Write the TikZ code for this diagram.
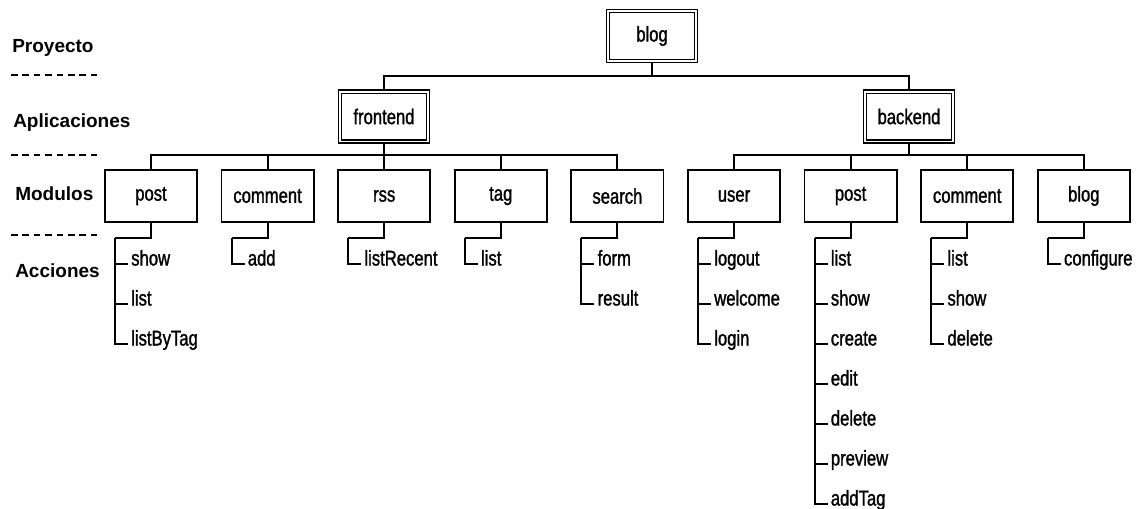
\documentclass[tikz,border=0pt]{standalone}
\usepackage{fontspec}
\setmainfont{Liberation Sans}
\newfontfamily\cf[FakeStretch=0.78,FakeBold=1.3]{Liberation Sans}
\newcommand\acts[2]{%
  \draw[conn] (#1.south) |- ++(-36,14.5) coordinate (#1-k);
  \foreach \t [count=\i] in {#2} {
    \path (#1-k) ++(13,{26+40*(\i-1)}) node[act] (#1-\i) {\t};
    \draw[conn] (#1-k) -- (#1-k |- #1-\i.west) -- (#1-\i.west);
  }
}
\begin{document}
\begin{tikzpicture}[x=0.75pt,y=-0.75pt,
  every node/.style={font=\cf\fontsize{16}{19}\selectfont},
  dbox/.style={draw, line width=1.1pt, double, double distance=1.3pt,
    minimum width=66.2pt, minimum height=37.3pt, inner sep=0pt},
  mbox/.style={draw, line width=1.3pt, minimum width=69.2pt,
    minimum height=39.2pt, inner sep=0pt},
  act/.style={anchor=west, inner xsep=2.25pt, inner ysep=0pt,
    text height=9pt, text depth=6pt},
  lvl/.style={anchor=base west, inner sep=0pt,
    font=\bfseries\fontsize{14.25}{17}\selectfont},
  conn/.style={line width=1.5pt},
  sep/.style={line width=1.3pt, dash pattern=on 4.9pt off 3.65pt}]
\useasboundingbox (0,0) rectangle (1143,508);

% level labels
\node[lvl] (lp) at (12,52) {Proyecto};
\node[lvl] (la) at (13,127) {Aplicaciones};
\node[lvl] (lm) at (15,200) {Modulos};
\node[lvl] (lc) at (15,277) {Acciones};
\draw[sep] (11,75) -- (97,75);
\draw[sep] (11,155) -- (97,155);
\draw[sep] (11,235) -- (97,235);

% project and applications
\node[dbox] (blog) at (652,36) {blog};
\node[dbox] (fe) at (384,116.5) {frontend};
\node[dbox] (be) at (909,116.5) {backend};
\coordinate (bus0) at (652,76);
\draw[conn] (blog.south) -- (bus0);
\draw[conn] (bus0) -| (fe.north);
\draw[conn] (bus0) -| (be.north);

% modules
\foreach \n/\t [count=\i from 0] in {fpost/post, fcom/comment, frss/rss,
  ftag/tag, fsea/search, buser/user, bpost/post, bcom/comment, bblog/blog}
  \node[mbox] (\n) at ({151+116.6*\i},196) {\t};

\coordinate (bus1) at (384,155);
\draw[conn] (fe.south) -- (bus1);
\foreach \n in {fpost,fcom,frss,ftag,fsea}
  \draw[conn] (bus1) -| (\n.north);
\coordinate (bus2) at (909,155);
\draw[conn] (be.south) -- (bus2);
\foreach \n in {buser,bpost,bcom,bblog}
  \draw[conn] (bus2) -| (\n.north);

% actions
\acts{fpost}{show,list,listByTag}
\acts{fcom}{add}
\acts{frss}{listRecent}
\acts{ftag}{list}
\acts{fsea}{form,result}
\acts{buser}{logout,welcome,login}
\acts{bpost}{list,show,create,edit,delete,preview,addTag}
\acts{bcom}{list,show,delete}
\acts{bblog}{configure}
\end{tikzpicture}
\end{document}
